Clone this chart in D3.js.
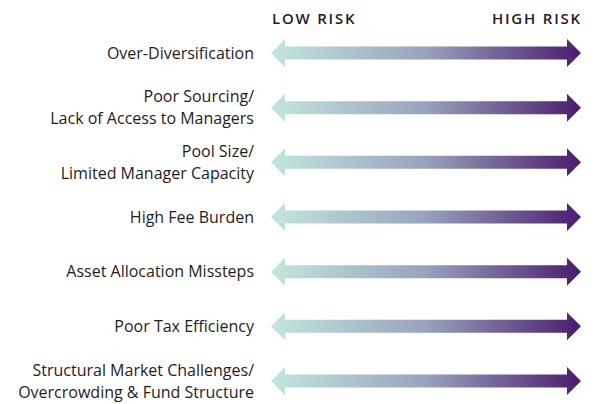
<!DOCTYPE html>
<html lang="en">
<head>
    <meta charset="utf-8">
    <title>Risk Spectrum</title>
    <script src="https://d3js.org/d3.v7.min.js"></script>
    <style>
        body { margin: 0; background: #fff; }
        text { font-family: "Open Sans", sans-serif; fill: #1f1c1d; }
    </style>
</head>
<body>
    <svg width="597" height="404" id="mainsvg"></svg>

    <script>
        // data
        const risks = [
            ['Over-Diversification'],
            ['Poor Sourcing/', 'Lack of Access to Managers'],
            ['Pool Size/', 'Limited Manager Capacity'],
            ['High Fee Burden'],
            ['Asset Allocation Missteps'],
            ['Poor Tax Efficiency'],
            ['Structural Market Challenges/', 'Overcrowding & Fund Structure']
        ]
        const scaleEnds = ['LOW RISK', 'HIGH RISK']
        const gradientStops = [
            {offset: 0, color: '#c1e7dd'},
            {offset: 0.5, color: '#98a2bd'},
            {offset: 1, color: '#4a1c6f'}
        ]

        const svg = d3.select('#mainsvg')

        const xScale = d3.scaleLinear().domain([0, 1]).range([271, 581])
        const yScale = d3.scalePoint()
            .domain(d3.range(risks.length))
            .range([53, 381])

        const defs = svg.append('defs')
        const grad = defs.append('linearGradient')
            .attr('id', 'riskgrad')
            .attr('gradientUnits', 'userSpaceOnUse')
            .attr('x1', xScale(0)).attr('x2', xScale(1))
            .attr('y1', 0).attr('y2', 0)
        grad.selectAll('stop').data(gradientStops).join('stop')
            .attr('offset', d => d.offset)
            .attr('stop-color', d => d.color)

        // header
        svg.selectAll('.end').data(scaleEnds).join('text')
            .attr('class', 'end')
            .attr('x', (d, i) => i === 0 ? xScale(0) + 1 : xScale(1) + 1)
            .attr('y', 24)
            .attr('text-anchor', (d, i) => i === 0 ? 'start' : 'end')
            .attr('font-size', 15)
            .attr('font-weight', 600)
            .attr('letter-spacing', 1.8)
            .text(d => d)

        // double arrow
        const headLen = 14, headHalf = 14, shaftHalf = 6.5
        const arrowPath = function (cy) {
            const x0 = xScale(0), x1 = xScale(1)
            return `M${x0},${cy}
                L${x0 + headLen},${cy - headHalf} L${x0 + headLen},${cy - shaftHalf}
                L${x1 - headLen},${cy - shaftHalf} L${x1 - headLen},${cy - headHalf}
                L${x1},${cy}
                L${x1 - headLen},${cy + headHalf} L${x1 - headLen},${cy + shaftHalf}
                L${x0 + headLen},${cy + shaftHalf} L${x0 + headLen},${cy + headHalf} Z`
        }

        const rows = svg.selectAll('.row').data(risks).join('g')
            .attr('class', 'row')

        rows.append('path')
            .attr('d', (d, i) => arrowPath(yScale(i)))
            .attr('fill', 'url(#riskgrad)')

        const lineH = 22
        rows.append('text')
            .attr('x', 254)
            .attr('text-anchor', 'end')
            .attr('font-size', 16)
            .each(function (d, i) {
                const cy = yScale(i)
                const top = cy - (d.length - 1) * lineH / 2
                d3.select(this).selectAll('tspan').data(d).join('tspan')
                    .attr('x', 254)
                    .attr('y', (t, j) => top + j * lineH)
                    .attr('dy', '0.35em')
                    .text(t => t)
            })
    </script>
</body>
</html>
